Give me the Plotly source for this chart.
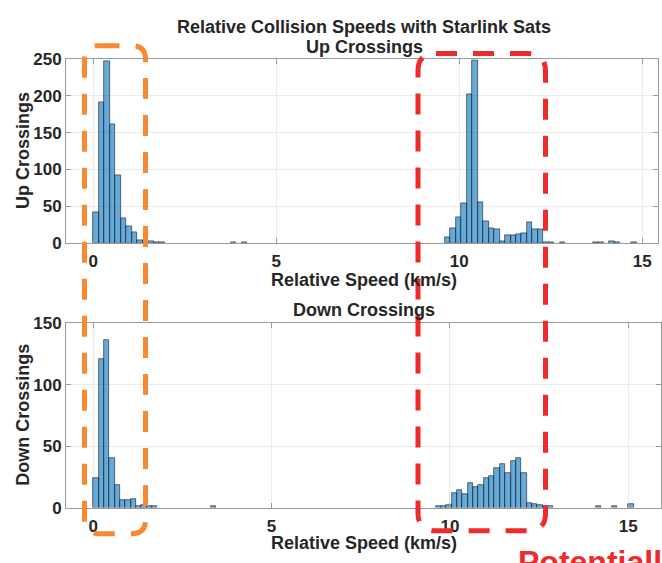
import plotly.graph_objects as go

W, H = 662, 563

BIN_WIDTH = 0.15

# Up crossings: left edges of non-empty bins and their counts
up_bin_left = [0.00, 0.15, 0.30, 0.45, 0.60, 0.75, 0.90, 1.05, 1.20, 1.35, 1.50, 1.65, 1.80,
               3.75, 4.05,
               9.60, 9.75, 9.90, 10.05, 10.20, 10.35, 10.50, 10.65, 10.80, 10.95, 11.10,
               11.25, 11.40, 11.55, 11.70, 11.85, 12.00, 12.15, 12.30, 12.45, 12.75,
               13.65, 13.80, 14.10, 14.25, 14.70]
up_counts = [42, 191, 247, 162, 92, 33, 22, 14, 3, 4, 2, 1, 1,
             1, 1,
             7, 20, 35, 54, 203, 249, 55, 29, 20, 18, 2,
             11, 11, 12, 13, 28, 18, 19, 1, 1, 1,
             1, 1, 2, 1, 1]

# Down crossings
down_bin_left = [0.00, 0.15, 0.30, 0.45, 0.60, 0.75, 0.90, 1.05, 1.20, 1.35, 1.50, 1.65,
                 3.30,
                 9.60, 9.75, 9.90, 10.05, 10.20, 10.35, 10.50, 10.65, 10.80, 10.95, 11.10,
                 11.25, 11.40, 11.55, 11.70, 11.85, 12.00, 12.15, 12.30, 12.45, 12.60, 12.75,
                 14.10, 14.55, 15.00]
down_counts = [24, 121, 136, 40, 18, 6, 6, 7, 1, 2, 1, 1,
               1,
               1, 1, 2, 12, 14, 11, 20, 17, 18, 24, 26,
               32, 35, 28, 38, 40, 28, 4, 3, 2, 1, 1,
               1, 1, 3]

x_ticks = [0, 5, 10, 15]
up_y_ticks = [0, 50, 100, 150, 200, 250]
down_y_ticks = [0, 50, 100, 150]

main_title = "Relative Collision Speeds with Starlink Sats"
up_title = "Up Crossings"
down_title = "Down Crossings"
x_label = "Relative Speed (km/s)"
up_ylabel = "Up Crossings"
down_ylabel = "Down Crossings"
note_text = "Potentially"

FILL = "rgba(0,114,189,0.6)"
EDGE = "rgba(25,35,50,0.9)"
FONT = "Liberation Sans, Arial, sans-serif"
TXT = "#262626"


def px(x):
    return x / W


def py(y):
    return 1 - y / H


def centers(lefts):
    return [l + BIN_WIDTH / 2 for l in lefts]


fig = go.Figure()
fig.add_trace(go.Bar(x=centers(up_bin_left), y=up_counts, width=BIN_WIDTH,
                     marker=dict(color=FILL, line=dict(color=EDGE, width=0.7)),
                     xaxis="x", yaxis="y", showlegend=False))
fig.add_trace(go.Bar(x=centers(down_bin_left), y=down_counts, width=BIN_WIDTH,
                     marker=dict(color=FILL, line=dict(color=EDGE, width=0.7)),
                     xaxis="x2", yaxis="y2", showlegend=False))

axis_common = dict(showline=True, linecolor="#9a9a9a", linewidth=1, mirror="ticks",
                   ticks="inside", ticklen=5, tickcolor="#9a9a9a",
                   showgrid=True, gridcolor="#ebebeb", gridwidth=1, zeroline=False,
                   tickfont=dict(family=FONT, size=17, color=TXT, weight="bold"))

fig.update_layout(
    width=W, height=H, margin=dict(l=0, r=0, t=0, b=0),
    paper_bgcolor="white", plot_bgcolor="white", bargap=0,
    xaxis=dict(domain=[px(66), px(658)], range=[-0.746, 15.43], tickvals=x_ticks,
               anchor="y", ticklabelstandoff=3, **axis_common),
    yaxis=dict(domain=[py(242), py(52)], range=[0, 250], tickvals=up_y_ticks,
               anchor="x", **axis_common),
    xaxis2=dict(domain=[px(66), px(661)], range=[-0.765, 15.92], tickvals=x_ticks,
                anchor="y2", ticklabelstandoff=3, **axis_common),
    yaxis2=dict(domain=[py(516), py(325)], range=[0, 150], tickvals=down_y_ticks,
                anchor="x2", **axis_common),
)

bold = lambda s: dict(family=FONT, size=s, color=TXT, weight="bold")
ann = [
    dict(text=main_title, x=px(364), y=py(19), font=bold(18)),
    dict(text=up_title, x=px(364), y=py(39), font=bold(18)),
    dict(text=down_title, x=px(364), y=py(312), font=bold(18)),
    dict(text=x_label, x=px(364), y=py(280), font=bold(18)),
    dict(text=x_label, x=px(364), y=py(553), font=bold(18)),
    dict(text=up_ylabel, x=px(23), y=py(147), font=bold(18), textangle=-90),
    dict(text=down_ylabel, x=px(23), y=py(420), font=bold(18), textangle=-90),
]
for a in ann:
    a.update(xref="paper", yref="paper", showarrow=False, xanchor="center", yanchor="middle")
ann.append(dict(text=note_text, x=px(516), y=py(552), xref="paper", yref="paper",
                showarrow=False, xanchor="left", yanchor="top",
                font=dict(family=FONT, size=32, color="#ee2a2a", weight="bold")))
fig.update_layout(annotations=ann)


def rrect(x0, y0, x1, y1, r):
    pts = []
    pts.append(f"M {px(x0 + r)},{py(y0)}")
    pts.append(f"L {px(x1 - r)},{py(y0)}")
    pts.append(f"Q {px(x1)},{py(y0)} {px(x1)},{py(y0 + r)}")
    pts.append(f"L {px(x1)},{py(y1 - r)}")
    pts.append(f"Q {px(x1)},{py(y1)} {px(x1 - r)},{py(y1)}")
    pts.append(f"L {px(x0 + r)},{py(y1)}")
    pts.append(f"Q {px(x0)},{py(y1)} {px(x0)},{py(y1 - r)}")
    pts.append(f"L {px(x0)},{py(y0 + r)}")
    pts.append(f"Q {px(x0)},{py(y0)} {px(x0 + r)},{py(y0)}")
    pts.append("Z")
    return " ".join(pts)


fig.add_shape(type="path", path=rrect(84.5, 38, 145.5, 543, 14), xref="paper", yref="paper",
              line=dict(color="#f58a32", width=5, dash="21px,16px"), layer="above")
fig.add_shape(type="path", path=rrect(418, 46, 545.5, 540, 18), xref="paper", yref="paper",
              line=dict(color="#ee2a2a", width=5, dash="21px,16px"), layer="above")

fig.write_html("out.html")
